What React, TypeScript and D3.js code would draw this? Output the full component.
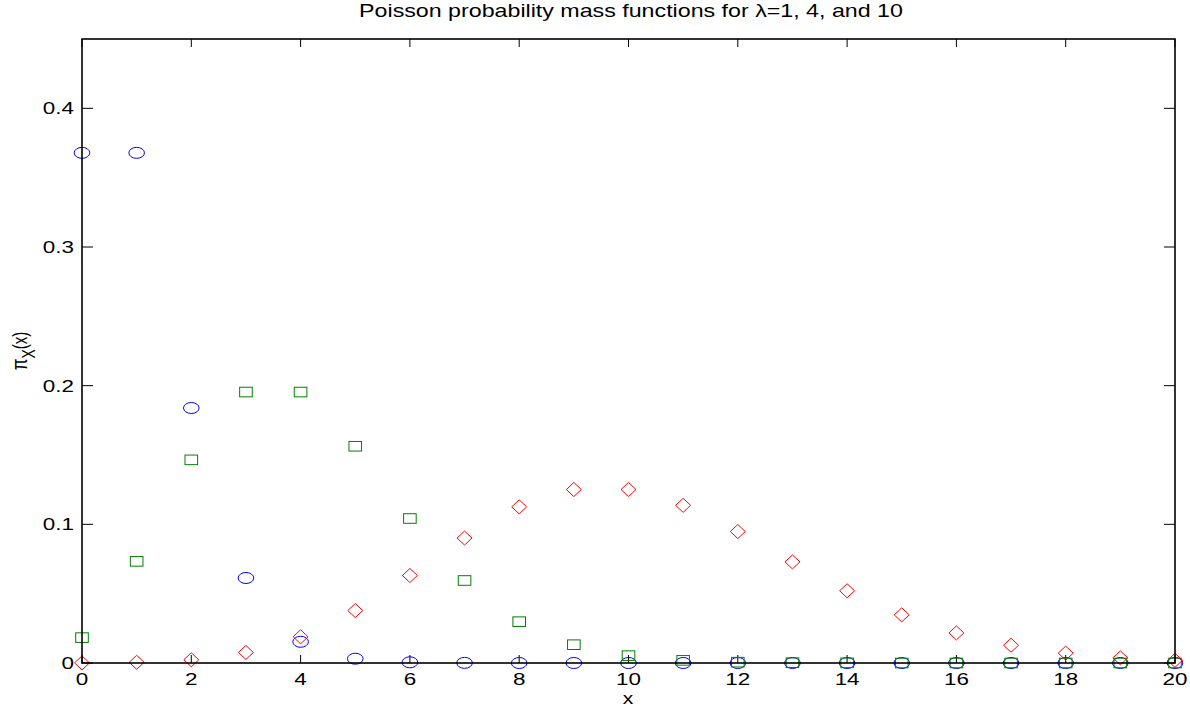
import React from "react";
import * as d3 from "d3";

const xs = [0,1,2,3,4,5,6,7,8,9,10,11,12,13,14,15,16,17,18,19,20];
const lambda1 = [0.3679,0.3679,0.1839,0.0613,0.0153,0.0031,0.0005,0.0001,0,0,0,0,0,0,0,0,0,0,0,0,0];
const lambda4 = [0.0183,0.0733,0.1465,0.1954,0.1954,0.1563,0.1042,0.0595,0.0298,0.0132,0.0053,0.0019,0.0006,0.0002,0.0001,0,0,0,0,0,0];
const lambda10 = [0.00005,0.0005,0.0023,0.0076,0.0189,0.0378,0.0631,0.0901,0.1126,0.1251,0.1251,0.1137,0.0948,0.0729,0.0521,0.0347,0.0217,0.0128,0.0071,0.0037,0.0019];
const xTicks = [0,2,4,6,8,10,12,14,16,18,20];
const yTicks = [0,0.1,0.2,0.3,0.4];
const yTickLabels = ["0","0.1","0.2","0.3","0.4"];
const titleText = "Poisson probability mass functions for \u03bb=1, 4, and 10";

const W = 1190, H = 707;
const L = 82, R = 1175, T = 39, B = 663;
const SX = 1.32;

export default function App() {
  const x = d3.scaleLinear().domain([0, 20]).range([L, R]);
  const y = d3.scaleLinear().domain([0, 0.45]).range([B, T]);
  const font = "'Liberation Sans', Arial, Helvetica, sans-serif";
  const xTick = 8, yTick = 11;
  const diamond = (cx: number, cy: number) => {
    const a = 7.5, b = 7;
    return `M${cx},${cy - b}L${cx + a},${cy}L${cx},${cy + b}L${cx - a},${cy}Z`;
  };
  return (
    <svg width={W} height={H} style={{ position: "absolute", left: 0, top: 0, background: "#fff" }} fontFamily={font}>
      <rect x={0} y={0} width={W} height={H} fill="#fff" />
      {xTicks.map((t) => (
        <g key={"xt" + t}>
          <line x1={x(t)} x2={x(t)} y1={B} y2={B - xTick} stroke="#000" strokeWidth={1} />
          <line x1={x(t)} x2={x(t)} y1={T} y2={T + xTick} stroke="#000" strokeWidth={1} />
          <text transform={`translate(${x(t)},685) scale(${SX},1)`} fontSize={17} textAnchor="middle" fill="#000">{t}</text>
        </g>
      ))}
      {yTicks.map((t, i) => (
        <g key={"yt" + t}>
          <line x1={L} x2={L + yTick} y1={y(t)} y2={y(t)} stroke="#000" strokeWidth={1} />
          <line x1={R} x2={R - yTick} y1={y(t)} y2={y(t)} stroke="#000" strokeWidth={1} />
          <text transform={`translate(${L - 8},${y(t) + 6}) scale(${SX},1)`} fontSize={17} textAnchor="end" fill="#000">{yTickLabels[i]}</text>
        </g>
      ))}
      {xs.map((v, i) => (
        <ellipse key={"c" + i} cx={x(v)} cy={y(lambda1[i])} rx={7.8} ry={5.5} fill="none" stroke="#0000ff" strokeWidth={1} />
      ))}
      {xs.map((v, i) => (
        <rect key={"s" + i} x={x(v) - 6.3} y={y(lambda4[i]) - 4.8} width={12.6} height={9.6} fill="none" stroke="#008000" strokeWidth={1} />
      ))}
      {xs.map((v, i) => (
        <path key={"d" + i} d={diamond(x(v), y(lambda10[i]))} fill="none" stroke="#ff0000" strokeWidth={1} />
      ))}
      <rect x={L} y={T} width={R - L} height={B - T} fill="none" stroke="#000" strokeWidth={1.6} />
      <text transform={`translate(631,17) scale(1.29,1)`} fontSize={18} textAnchor="middle" fill="#000">{titleText}</text>
      <text transform={`translate(628,703.5) scale(${SX},1)`} fontSize={16} textAnchor="middle" fill="#000">x</text>
      <text transform={`translate(27,351) scale(1.3,1) rotate(-90)`} textAnchor="middle" fill="#000">
        <tspan fontSize={17}>{"\u03c0"}</tspan>
        <tspan fontSize={14} dy={6}>X</tspan>
        <tspan fontSize={15} dy={-6}>(x)</tspan>
      </text>
    </svg>
  );
}
